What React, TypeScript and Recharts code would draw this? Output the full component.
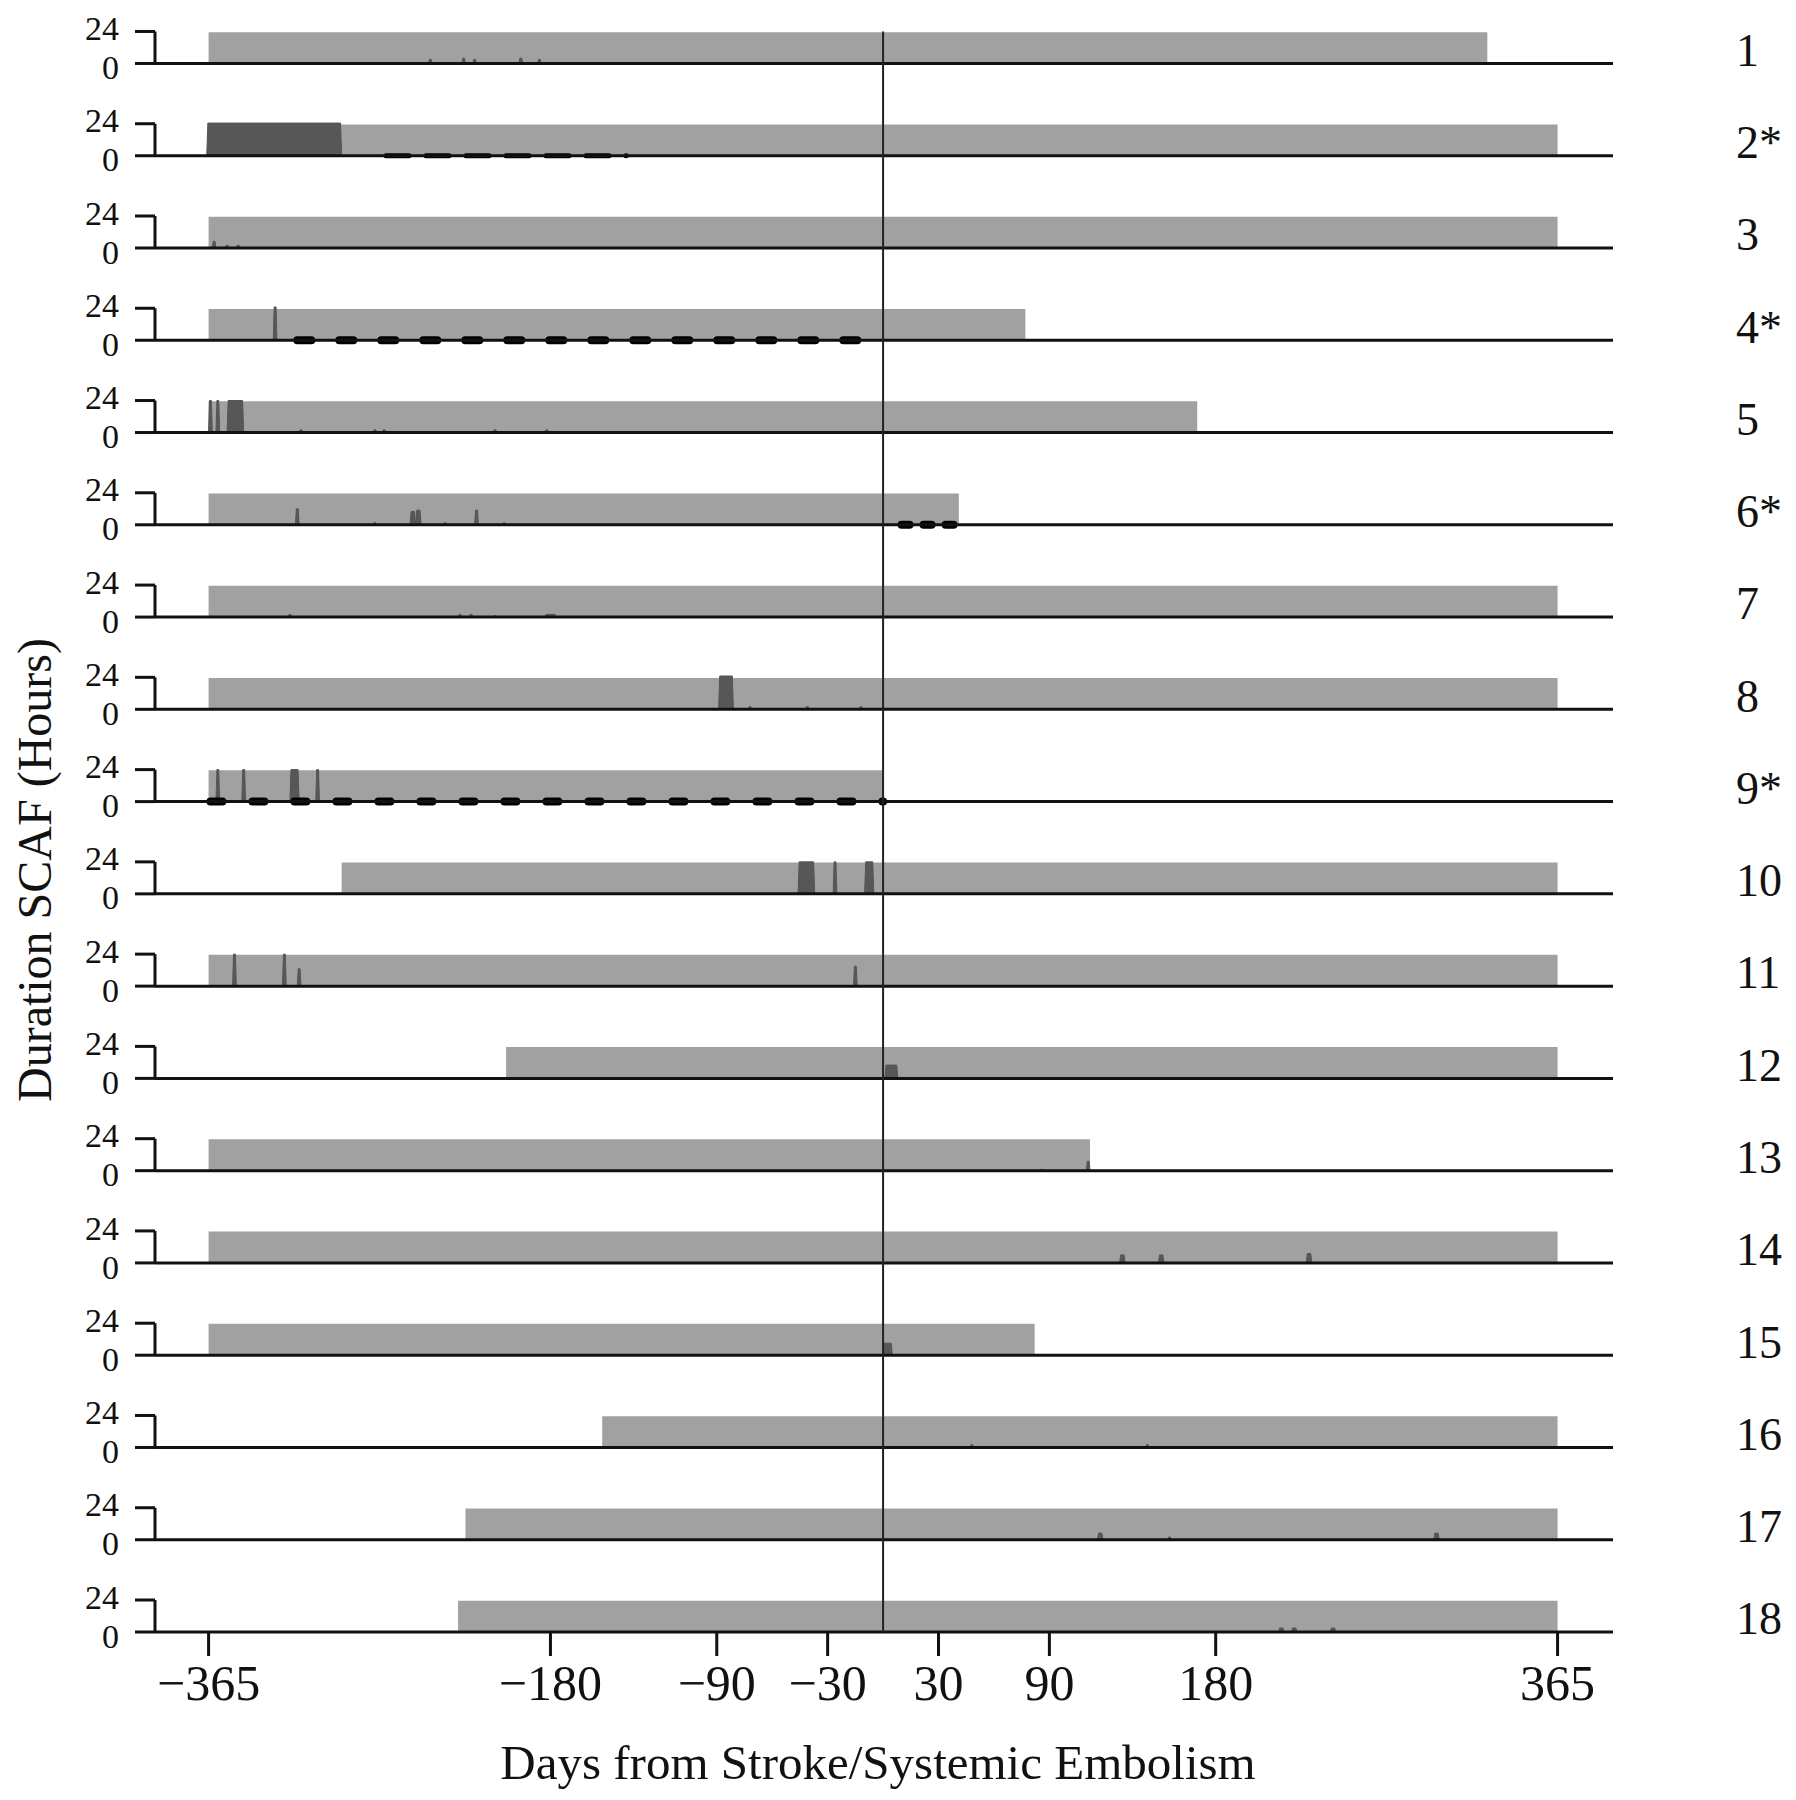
import React from "react";
import { ComposedChart, Area, Line, XAxis, YAxis, ReferenceLine, Label } from "recharts";

// one row per patient, top to bottom
const ROW_LABELS = ["1", "2*", "3", "4*", "5", "6*", "7", "8", "9*", "10", "11", "12", "13", "14", "15", "16", "17", "18"];

// monitoring window (days from stroke)
const MONITOR_START = [-365, -365, -365, -365, -365, -365, -365, -365, -365, -293, -365, -204, -365, -365, -365, -152, -226, -230];
const MONITOR_END = [327, 365, 365, 77, 170, 41, 365, 365, 0, 365, 365, 365, 112, 365, 82, 365, 365, 365];

// SCAF episodes per row: [start day, end day, hours]
const EPISODES: number[][][] = [
  [[-246, -244, 3], [-228, -226, 4], [-222, -220, 3], [-197, -195, 4], [-187, -185, 3]],
  [[-366, -293, 24.5]],
  [[-363, -361, 5], [-356, -354, 2], [-350, -348, 2]],
  [[-330, -328, 25]],
  [[-365, -363, 24], [-361, -359, 24], [-355, -346, 24], [-316, -314, 2], [-276, -274, 2], [-271, -269, 2], [-211, -209, 2], [-183, -181, 2]],
  [[-318, -316, 12], [-276, -274, 1.5], [-256, -253, 10], [-253, -250, 11], [-238, -236, 1.5], [-221, -219, 11], [-206, -204, 1.5]],
  [[-322, -320, 2], [-230, -228, 2], [-224, -222, 2], [-211, -209, 1], [-183, -177, 2]],
  [[-89, -81, 25], [-73, -71, 2], [-42, -40, 2], [-13, -11, 2]],
  [[-361, -359, 24], [-347, -345, 24], [-321, -316, 24], [-307, -305, 24]],
  [[-46, -37, 24], [-27, -25, 24], [-10, -5, 24]],
  [[-352, -350, 24], [-325, -323, 24], [-317, -315, 13], [-16, -14, 15]],
  [[1, 8, 10]],
  [[85, 87, 1], [110, 112, 7]],
  [[128, 131, 6], [149, 152, 6], [229, 232, 7]],
  [[0, 5, 9]],
  [[47, 49, 2], [142, 144, 2]],
  [[116, 119, 5], [154, 156, 2], [298, 301, 5]],
  [[214, 217, 3], [221, 224, 3], [242, 245, 3]],
];

// anticoagulation periods (dashed)
const ANTICOAG_ROW = [1, 3, 5, 8];
const ANTICOAG_START = [-269, -317, 10, -364];
const ANTICOAG_END = [-139, 0, 43, 0];

const X_TICKS = [-365, -180, -90, -30, 30, 90, 180, 365];

// layout / style
const ROW_GAP = 69.2; // hours between row baselines
const GRAY_TOP = 23.5;
const Y_MAX = 1212;
const FONT = '"Liberation Serif", "Times New Roman", serif';
const INK = "#111";
const DASH_STYLE = [
  { w: 5, d: "23 17" },
  { w: 8, d: "14 28" },
  { w: 8, d: "8 14" },
  { w: 8, d: "12 30" },
];

const N = ROW_LABELS.length;
const base = (r: number) => (N - 1 - r) * ROW_GAP;

const grayData = (r: number) => [
  { x: MONITOR_START[r], y: base(r) + GRAY_TOP },
  { x: MONITOR_END[r], y: base(r) + GRAY_TOP },
];

const spikeData = (r: number) => {
  const b = base(r);
  const pts: { x: number; y: number }[] = [];
  EPISODES[r].forEach(([s, e, h]) => {
    const k = Math.min(0.6, (e - s) / 4);
    pts.push({ x: s, y: b }, { x: s + k, y: b + h }, { x: e - k, y: b + h }, { x: e, y: b });
  });
  return pts;
};

const leftTicks = ROW_LABELS.flatMap((_, r) => [base(r), base(r) + 24]).sort((a, b) => a - b);
const rowTicks = ROW_LABELS.map((_, r) => base(r) + 10.5).sort((a, b) => a - b);

const isTop = (v: number) => v - Math.round(v / ROW_GAP) * ROW_GAP > 12;

// "24" nudged up, "0" nudged down so the stacked pair doesn't collide
const HourTick = (props: any) => {
  const { x, y, payload } = props;
  const top = isTop(payload.value);
  return (
    <text
      x={x}
      y={y + (top ? -3.5 : 3.5)}
      dy="0.355em"
      textAnchor="end"
      fontSize={34}
      fontFamily={FONT}
      fill={INK}
    >
      {top ? "24" : "0"}
    </text>
  );
};

export default function App() {
  return (
    <div style={{ width: 1780, height: 1784, background: "#fff" }}>
      <ComposedChart width={1780} height={1784} margin={{ top: 8, right: 0, bottom: 0, left: 0 }}>
        <XAxis
          type="number"
          dataKey="x"
          domain={[-394, 395]}
          allowDataOverflow
          ticks={X_TICKS}
          interval={0}
          height={160}
          axisLine={false}
          tickLine={{ stroke: INK, strokeWidth: 3 }}
          tickSize={24}
          tickMargin={8}
          tick={{ fontSize: 50, fontFamily: FONT, fill: INK }}
          tickFormatter={(v: number) => (v < 0 ? `\u2212${-v}` : `${v}`)}
        >
          <Label
            content={() => (
              <text x={870} y={1771} textAnchor="middle" fontSize={49} fontFamily={FONT} fill={INK}>
                Days from Stroke/Systemic Embolism
              </text>
            )}
          />
        </XAxis>
        <YAxis
          type="number"
          domain={[0, Y_MAX]}
          allowDataOverflow
          ticks={leftTicks}
          interval={0}
          width={147}
          axisLine={false}
          tickLine={{ stroke: INK, strokeWidth: 3 }}
          tickSize={20}
          tickMargin={16}
          tick={<HourTick />}
        >
          <Label
            content={() => (
              <text
                x={26}
                y={862}
                transform="rotate(-90 26 862)"
                textAnchor="middle"
                dominantBaseline="central"
                fontSize={48}
                fontFamily={FONT}
                fill={INK}
              >
                Duration SCAF (Hours)
              </text>
            )}
          />
        </YAxis>
        <YAxis
          yAxisId="rows"
          orientation="right"
          type="number"
          domain={[0, Y_MAX]}
          allowDataOverflow
          ticks={rowTicks}
          interval={0}
          width={175}
          axisLine={false}
          tickLine={false}
          tickSize={0}
          tickMargin={123}
          tick={{ fontSize: 46, fontFamily: FONT, fill: INK }}
          tickFormatter={(v: number) => ROW_LABELS[N - 1 - Math.round((v - 10.5) / ROW_GAP)]}
        />

        {ROW_LABELS.map((_, r) => (
          <Area
            key={"g" + r}
            data={grayData(r)}
            dataKey="y"
            type="linear"
            baseValue={base(r)}
            stroke="none"
            fill="#a1a1a1"
            fillOpacity={1}
            dot={false}
            activeDot={false}
            isAnimationActive={false}
          />
        ))}
        {ROW_LABELS.map((_, r) => (
          <Area
            key={"s" + r}
            data={spikeData(r)}
            dataKey="y"
            type="linear"
            baseValue={base(r)}
            stroke="#555"
            strokeWidth={1}
            fill="#575757"
            fillOpacity={1}
            dot={false}
            activeDot={false}
            isAnimationActive={false}
          />
        ))}

        {ROW_LABELS.map((_, r) => (
          <ReferenceLine key={"b" + r} y={base(r)} stroke={INK} strokeWidth={3} zIndex={450} />
        ))}
        {ROW_LABELS.map((_, r) => (
          <ReferenceLine
            key={"k" + r}
            segment={[
              { x: -394, y: base(r) },
              { x: -394, y: base(r) + 24 },
            ]}
            stroke={INK}
            strokeWidth={3}
            zIndex={450}
          />
        ))}
        <ReferenceLine
          segment={[
            { x: 0, y: 0 },
            { x: 0, y: base(0) + 24 },
          ]}
          stroke="#222"
          strokeWidth={2}
          zIndex={450}
        />

        {ANTICOAG_ROW.map((r, i) => (
          <Line
            key={"a" + i}
            data={[
              { x: ANTICOAG_START[i], y: base(r) },
              { x: ANTICOAG_END[i], y: base(r) },
            ]}
            dataKey="y"
            type="linear"
            stroke="#000"
            strokeWidth={DASH_STYLE[i].w}
            strokeDasharray={DASH_STYLE[i].d}
            strokeLinecap="round"
            dot={false}
            activeDot={false}
            isAnimationActive={false}
          />
        ))}
      </ComposedChart>
    </div>
  );
}
